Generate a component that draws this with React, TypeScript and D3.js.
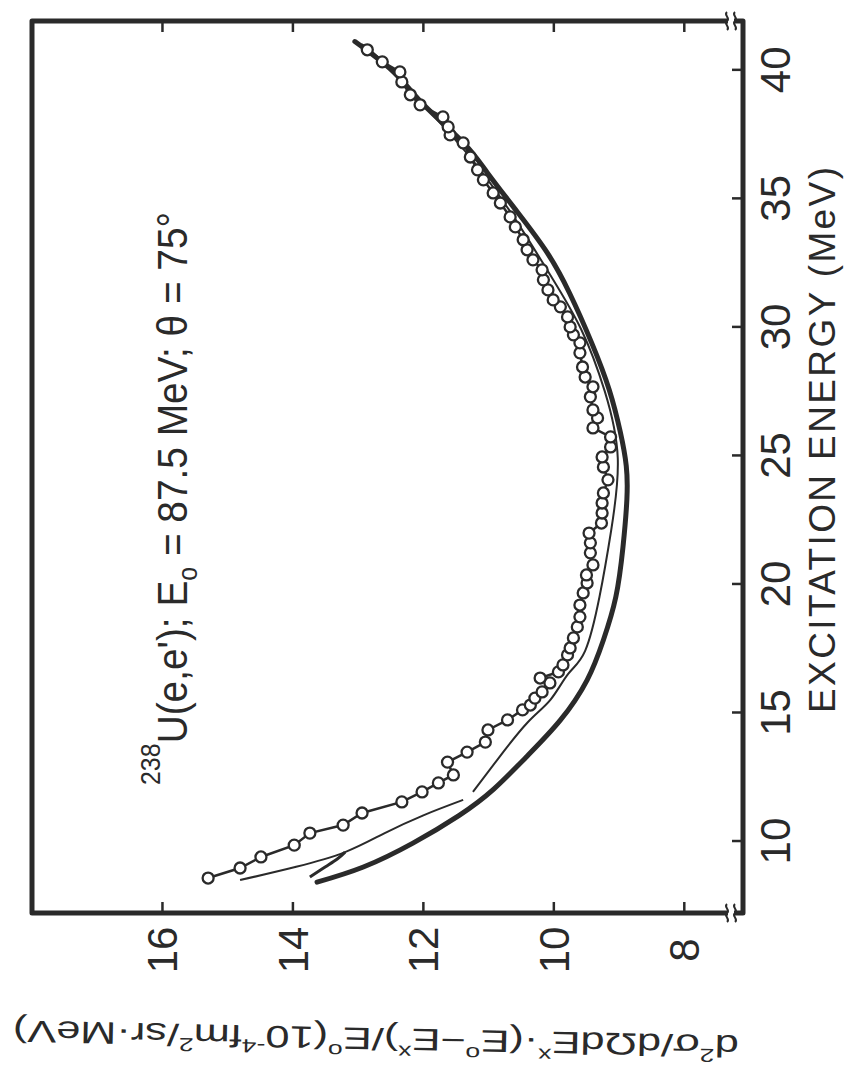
import * as d3 from 'd3';
import React, { useEffect, useRef } from 'react';

// tick values
const energyTicks = [10, 15, 20, 25, 30, 35, 40];
const crossTicks = [8, 10, 12, 14, 16];

// measured points (excitation energy in MeV, cross section)
const dataEnergy = [
  8.56, 8.95, 9.38, 9.84, 10.31, 10.62, 11.09, 11.52, 11.91, 12.26, 12.57, 13.07,
  13.46, 13.85, 14.32, 14.71, 15.1, 15.29, 15.56, 15.8, 16.15, 16.34, 16.58, 16.85,
  17.24, 17.51, 17.9, 18.33, 18.72, 19.18, 19.65, 20.04, 20.35, 20.74, 21.21, 21.6,
  21.98, 22.37, 22.76, 23.15, 23.54, 24.05, 24.55, 24.94, 25.33, 25.72, 26.07, 26.46,
  26.77, 27.28, 27.67, 28.05, 28.44, 28.99, 29.38, 29.69, 30.0, 30.39, 30.78, 31.05,
  31.44, 31.83, 32.22, 32.61, 33.0, 33.39, 33.89, 34.28, 34.82, 35.21, 35.72, 36.11,
  36.61, 37.16, 37.47, 37.78, 38.17, 38.64, 39.03, 39.53, 39.92, 40.31, 40.78,
];
const dataCross = [
  15.3, 14.81, 14.49, 13.98, 13.74, 13.23, 12.94, 12.33, 12.02, 11.77, 11.54, 11.63,
  11.33, 11.05, 11.01, 10.71, 10.48, 10.36, 10.29, 10.18, 10.06, 10.21, 9.93, 9.86,
  9.79, 9.75, 9.7, 9.64, 9.6, 9.6, 9.55, 9.49, 9.5, 9.4, 9.44, 9.44,
  9.46, 9.27, 9.26, 9.26, 9.24, 9.17, 9.24, 9.26, 9.13, 9.13, 9.4, 9.33,
  9.4, 9.44, 9.4, 9.52, 9.56, 9.6, 9.6, 9.7, 9.75, 9.79, 9.9, 10.01,
  10.09, 10.16, 10.18, 10.32, 10.41, 10.47, 10.59, 10.67, 10.82, 10.93, 11.08, 11.17,
  11.28, 11.39, 11.59, 11.62, 11.7, 12.05, 12.2, 12.33, 12.36, 12.63, 12.86,
];

// heavy calculated curve
const thickEnergy = [
  8.4, 8.99, 9.92, 11.0, 12.0, 13.3, 14.7, 16.26, 17.82, 19.49, 21.44, 23.3, 24.6,
  25.9, 27.55, 29.38, 31.32, 32.88, 34.44, 36.0, 37.2, 38.6, 39.9, 41.1,
];
const thickCross = [
  13.63, 12.92, 12.16, 11.45, 10.93, 10.41, 9.9, 9.49, 9.24, 9.05, 8.94, 8.88, 8.89,
  8.98, 9.15, 9.42, 9.76, 10.1, 10.55, 11.02, 11.4, 11.98, 12.45, 13.05,
];

// light calculated curve, low part and upper part
const thinLowEnergy = [8.48, 9.0, 9.57, 10.3, 11.0, 11.6];
const thinLowCross = [14.81, 13.95, 13.2, 12.6, 12.0, 11.39];
const thinHighEnergy = [
  11.91, 13.15, 14.59, 15.5, 16.5, 17.4, 19.5, 22.1, 24.9, 27.5, 29.9, 32.0, 34.3,
  36.5, 38.5, 40.5, 41.0,
];
const thinHighCross = [
  11.24, 10.87, 10.41, 10.05, 9.78, 9.52, 9.3, 9.12, 9.02, 9.22, 9.58, 10.05, 10.62,
  11.25, 11.95, 12.7, 12.95,
];

// short medium curve at the low end
const midEnergy = [8.6, 9.0, 9.3, 9.57];
const midCross = [13.74, 13.5, 13.32, 13.2];

const ink = '#2a2a2a';

export default function App() {
  const svgRef = useRef(null);
  const width = 844;
  const height = 1071;

  useEffect(() => {
    const svg = d3.select(svgRef.current);
    svg.selectAll('*').remove();

    const left = 32;
    const right = 743;
    const top = 21;
    const bottom = 913;

    // energy runs up the page, cross section runs right to left
    const yE = d3.scaleLinear().domain([7.2, 41.9]).range([bottom, top]);
    const xV = d3.scaleLinear().domain([18, 7.1]).range([left, right]);

    svg.append('rect').attr('width', width).attr('height', height).attr('fill', '#fff');

    const font = "'Liberation Sans', Arial, sans-serif";

    const line = d3
      .line<[number, number]>()
      .x((d) => xV(d[1]))
      .y((d) => yE(d[0]))
      .curve(d3.curveNatural);

    const pts = (e: number[], v: number[]) => e.map((d, i) => [d, v[i]] as [number, number]);

    // curves
    svg.append('path')
      .attr('d', line(pts(thickEnergy, thickCross)))
      .attr('fill', 'none')
      .attr('stroke', ink)
      .attr('stroke-width', 5)
      .attr('stroke-linecap', 'round');

    svg.append('path')
      .attr('d', line(pts(thinLowEnergy, thinLowCross)))
      .attr('fill', 'none')
      .attr('stroke', ink)
      .attr('stroke-width', 2);
    svg.append('path')
      .attr('d', line(pts(thinHighEnergy, thinHighCross)))
      .attr('fill', 'none')
      .attr('stroke', ink)
      .attr('stroke-width', 2);
    svg.append('path')
      .attr('d', line(pts(midEnergy, midCross)))
      .attr('fill', 'none')
      .attr('stroke', ink)
      .attr('stroke-width', 3);

    // data
    const data = pts(dataEnergy, dataCross);
    svg.append('path')
      .attr('d', d3.line<[number, number]>().x((d) => xV(d[1])).y((d) => yE(d[0]))(data))
      .attr('fill', 'none')
      .attr('stroke', ink)
      .attr('stroke-width', 2.5);
    svg.selectAll('circle.pt')
      .data(data)
      .enter()
      .append('circle')
      .attr('class', 'pt')
      .attr('cx', (d) => xV(d[1]))
      .attr('cy', (d) => yE(d[0]))
      .attr('r', 5.5)
      .attr('fill', '#fff')
      .attr('stroke', ink)
      .attr('stroke-width', 2.3);

    // frame
    svg.append('path')
      .attr('d', `M${left},${top}H${right}V${bottom}H${left}Z`)
      .attr('fill', 'none')
      .attr('stroke', ink)
      .attr('stroke-width', 5)
      .attr('stroke-linejoin', 'round');

    // axis breaks near the right corners
    [top, bottom].forEach((yy) => {
      svg.append('rect')
        .attr('x', right - 15)
        .attr('y', yy - 4)
        .attr('width', 6)
        .attr('height', 8)
        .attr('fill', '#fff');
      [right - 16, right - 8].forEach((xx) => {
        svg.append('path')
          .attr('d', `M${xx},${yy - 9}c-4,3 4,6 0,9c-4,3 4,6 0,9`)
          .attr('fill', 'none')
          .attr('stroke', ink)
          .attr('stroke-width', 2);
      });
    });

    // cross section ticks, top and bottom
    crossTicks.forEach((t) => {
      svg.append('line')
        .attr('x1', xV(t)).attr('x2', xV(t))
        .attr('y1', top).attr('y2', top + 11)
        .attr('stroke', ink).attr('stroke-width', 2.5);
      svg.append('line')
        .attr('x1', xV(t)).attr('x2', xV(t))
        .attr('y1', bottom).attr('y2', bottom - 11)
        .attr('stroke', ink).attr('stroke-width', 2.5);
      svg.append('text')
        .attr('transform', `translate(${xV(t) + 15},950) rotate(-90)`)
        .attr('text-anchor', 'middle')
        .attr('font-family', font)
        .attr('font-size', 42)
        .attr('fill', ink)
        .text(t);
    });

    // energy ticks on the right edge
    energyTicks.forEach((t) => {
      svg.append('line')
        .attr('x1', right).attr('x2', right - 11)
        .attr('y1', yE(t)).attr('y2', yE(t))
        .attr('stroke', ink).attr('stroke-width', 2.5);
      svg.append('text')
        .attr('transform', `translate(790,${yE(t)}) rotate(-90)`)
        .attr('text-anchor', 'middle')
        .attr('font-family', font)
        .attr('font-size', 42)
        .attr('fill', ink)
        .text(t);
    });

    // energy axis title
    svg.append('text')
      .attr('transform', `translate(835,440) rotate(-90)`)
      .attr('text-anchor', 'middle')
      .attr('font-family', font)
      .attr('font-size', 37)
      .attr('textLength', 546)
      .attr('lengthAdjust', 'spacing')
      .attr('fill', ink)
      .text('EXCITATION ENERGY (MeV)');

    // reaction label
    const title = svg.append('text')
      .attr('transform', `translate(187,785) rotate(-90)`)
      .attr('font-family', font)
      .attr('font-size', 42)
      .attr('textLength', 573)
      .attr('lengthAdjust', 'spacingAndGlyphs')
      .attr('fill', ink);
    title.append('tspan').attr('font-size', 27).attr('dy', -27).text('238');
    title.append('tspan').attr('dy', 27).text("U(e,e'); E");
    title.append('tspan').attr('font-size', 27).attr('dy', 10).text('o');
    title.append('tspan').attr('dy', -10).text(' = 87.5 MeV; \u03b8 = 75\u00b0');

    // cross section axis title, upside down and slightly skewed as in the print
    const ytitle = svg.append('text')
      .attr('transform', `translate(376,1028) rotate(181.2)`)
      .attr('text-anchor', 'middle')
      .attr('font-family', font)
      .attr('font-size', 31)
      .attr('textLength', 726)
      .attr('lengthAdjust', 'spacingAndGlyphs')
      .attr('fill', ink);
    ytitle.append('tspan').text('d');
    ytitle.append('tspan').attr('font-size', 19).attr('dy', -14).text('2');
    ytitle.append('tspan').attr('dy', 14).text('\u03c3/d\u03a9dE');
    ytitle.append('tspan').attr('font-size', 19).attr('dy', -17).text('x');
    ytitle.append('tspan').attr('dy', 17).text('\u00b7(E');
    ytitle.append('tspan').attr('font-size', 19).attr('dy', -17).text('o');
    ytitle.append('tspan').attr('dy', 17).text('\u2212E');
    ytitle.append('tspan').attr('font-size', 19).attr('dy', -17).text('x');
    ytitle.append('tspan').attr('dy', 17).text(')/E');
    ytitle.append('tspan').attr('font-size', 19).attr('dy', -17).text('o');
    ytitle.append('tspan').attr('dy', 17).text('(10');
    ytitle.append('tspan').attr('font-size', 19).attr('dy', -14).text('-4');
    ytitle.append('tspan').attr('dy', 14).text('fm');
    ytitle.append('tspan').attr('font-size', 19).attr('dy', -14).text('2');
    ytitle.append('tspan').attr('dy', 14).text('/sr\u00b7MeV)');
  }, []);

  return (
    <svg
      ref={svgRef}
      width={width}
      height={height}
      style={{ position: 'absolute', left: 0, top: 0 }}
    ></svg>
  );
}
